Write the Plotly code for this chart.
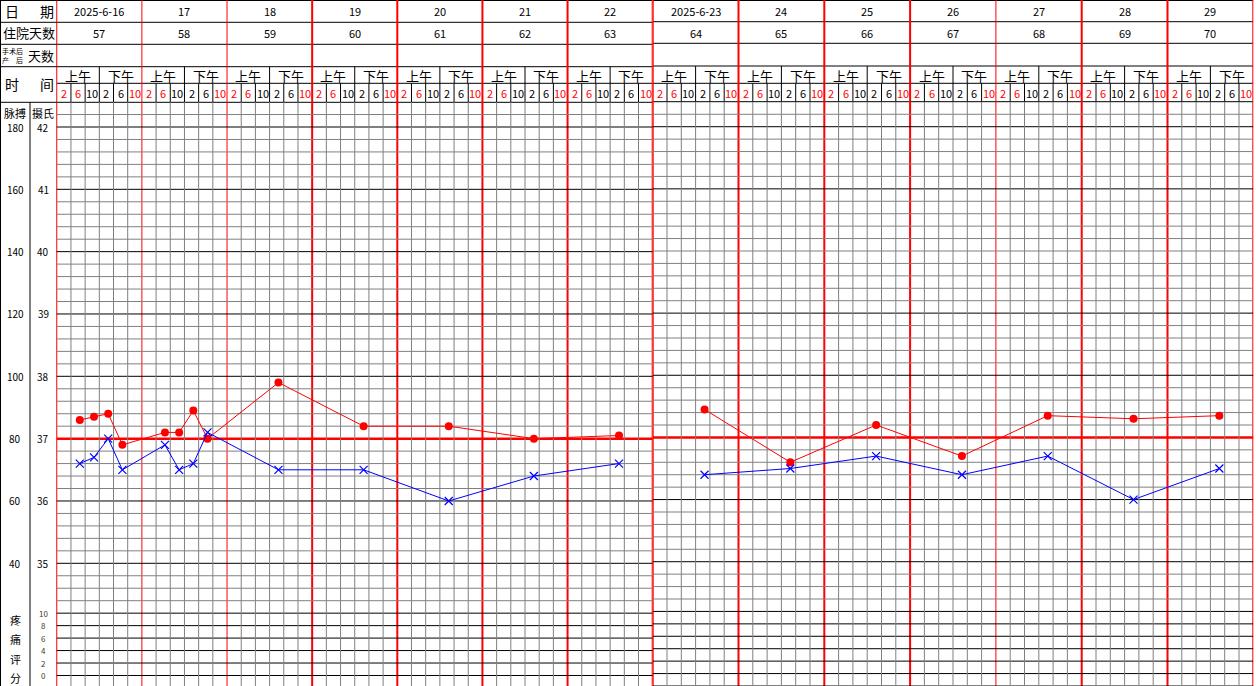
"""体温单 (两周) Plotly 重绘."""

import plotly.graph_objects as go

W, H = 1256, 686
FONT = "Noto Sans CJK SC"
RED = "#FF0000"
GREY = "#808080"
BLUE = "#0000FF"

# ---- 数据 ----
week1_dates = ["2025-6-16", "17", "18", "19", "20", "21", "22"]
week2_dates = ["2025-6-23", "24", "25", "26", "27", "28", "29"]
week1_inpatient_days = [57, 58, 59, 60, 61, 62, 63]
week2_inpatient_days = [64, 65, 66, 67, 68, 69, 70]
half_day_labels = ["上午", "下午"]
hour_labels = ["2", "6", "10", "2", "6", "10"]
hour_colors = [RED, RED, "black", "black", "black", RED]
pulse_ticks = [180, 160, 140, 120, 100, 80, 60, 40]
temp_ticks = [42, 41, 40, 39, 38, 37, 36, 35]
pain_ticks = [10, 8, 6, 4, 2, 0]

week1_day = [0, 0, 0, 0, 1, 1, 1, 1, 2, 3, 4, 5, 6]
week1_time = [6.5, 10.5, 14.5, 18.5, 6.5, 10.5, 14.5, 18.5, 14.5, 14.5, 14.5, 14.5, 14.5]
week1_temp = [37.3, 37.35, 37.4, 36.9, 37.1, 37.1, 37.45, 37.0, 37.9, 37.2, 37.2, 37.0, 37.05]
week1_pulse = [72, 74, 80, 70, 78, 70, 72, 82, 70, 70, 60, 68, 72]

week2_day = [0, 1, 2, 3, 4, 5, 6]
week2_time = [14.5, 14.5, 14.5, 14.5, 14.5, 14.5, 14.5]
week2_temp = [37.45, 36.6, 37.2, 36.7, 37.35, 37.3, 37.35]
week2_pulse = [68, 70, 74, 68, 74, 60, 70]


def temp_to_pulse(t):
    return 80 + (t - 37) * 20


def pain_to_temp(p):
    return 33.2 + p * 0.1


def py(px):
    return 1 - px / H


def px_x(px):
    return px / W


# 两个面板的像素位置
L_X0, L_X1 = 0, 652.7          # 左面板 (含标签列)
R_X0, R_X1 = 652.7, 1253.3     # 右面板
L_RANGE_Y = [33.0314, 44.0375]
R_RANGE_Y = [33.0, 44.0389]
L_ROWS = [0.5, 22.3, 44.3, 66.7, 83.3, 102.3]
R_ROWS = [0.5, 21.7, 43.3, 66.0, 83.3, 101.7]
L_DAY_W = [1, 1, 1, 2, 2, 2, 2, 2]
R_DAY_W = [2, 2, 2, 2, 1, 2, 2, 2]

shapes = []
annotations = []


def line(x0, y0, x1, y1, xref, yref, color, width=1):
    shapes.append(dict(type="line", x0=x0, y0=y0, x1=x1, y1=y1, xref=xref, yref=yref,
                       line=dict(color=color, width=width), layer="below"))


def text(x, y, s, xref, yref, size=11, color="black"):
    annotations.append(dict(x=x, y=y, text=s, xref=xref, yref=yref, showarrow=False,
                            xanchor="center", yanchor="middle",
                            font=dict(family=FONT, size=size, color=color)))


def build_panel(xr, yr, rows, day_w, dates, inpatient, skip_black, bottom_black):
    # 表头横线
    for r in rows:
        line(0, py(r), 168, py(r), xr, "paper", "black", 1)
    # 网格横线
    for k in range(bottom_black, 424, 2):
        t = k / 10
        if k == 370:
            continue
        if k % 10 == 0 and k >= 350 and k not in skip_black:
            color = "black"
        elif k <= 342:
            color = "black"
        else:
            color = GREY
        line(0, t, 168, t, xr, yr, color, 1)
    line(0, 37, 168, 37, xr, yr, RED, 2.5)
    # 竖线
    for d in range(7):
        for s in range(1, 6):
            x = d * 24 + s * 4
            line(x, py(rows[4]), x, py(rows[5]), xr, "paper", "black", 1)
            line(x, 42.4, x, yr_min[yr], xr, yr, GREY, 1)
        line(d * 24 + 12, py(rows[3]), d * 24 + 12, py(rows[4]), xr, "paper", "black", 1)
    for d in range(8):
        line(d * 24, 1, d * 24, 0, xr, "paper", RED, day_w[d])
    # 表头文字
    for d in range(7):
        text(d * 24 + 12, py((rows[0] + rows[1]) / 2), dates[d], xr, "paper", 11)
        text(d * 24 + 12, py((rows[1] + rows[2]) / 2), str(inpatient[d]), xr, "paper", 11)
        for h, lab in enumerate(half_day_labels):
            text(d * 24 + 6 + h * 12, py((rows[3] + rows[4]) / 2 + 0.5), lab, xr, "paper", 13)
        for s in range(6):
            text(d * 24 + s * 4 + 2, py((rows[4] + rows[5]) / 2 + 0.5), hour_labels[s],
                 xr, "paper", 11, hour_colors[s])


yr_min = {"y": L_RANGE_Y[0], "y3": R_RANGE_Y[0]}
build_panel("x", "y", L_ROWS, L_DAY_W, week1_dates, week1_inpatient_days, [], 332)
build_panel("x2", "y3", R_ROWS, R_DAY_W, week2_dates, week2_inpatient_days, [400], 330)

# 左侧标签列
line(px_x(0.5), 1, px_x(0.5), 0, "paper", "paper", "black", 1)
for r in [L_ROWS[0], L_ROWS[1], L_ROWS[2], L_ROWS[3], L_ROWS[5]]:
    line(0, py(r), px_x(56.7), py(r), "paper", "paper", "black", 1)
line(px_x(30), py(L_ROWS[5]), px_x(30), 0, "paper", "paper", "black", 1)

text(px_x(12), py(11), "日", "paper", "paper", 14)
text(px_x(47), py(11), "期", "paper", "paper", 14)
text(px_x(29), py(33), "住院天数", "paper", "paper", 13)
text(px_x(12), py(51), "手术后", "paper", "paper", 7)
text(px_x(12), py(60), "产　后", "paper", "paper", 7)
text(px_x(41), py(55), "天数", "paper", "paper", 13)
text(px_x(12), py(84), "时", "paper", "paper", 14)
text(px_x(47), py(84), "间", "paper", "paper", 14)
text(px_x(15), py(113), "脉搏", "paper", "paper", 11)
text(px_x(43), py(113), "摄氏", "paper", "paper", 11)
for p, t in zip(pulse_ticks, temp_ticks):
    text(px_x(15), t, str(p), "paper", "y", 10)
    text(px_x(43), t, str(t), "paper", "y", 10)
for p in pain_ticks:
    text(px_x(43), pain_to_temp(p), str(p), "paper", "y", 8, "#4a3a20")
for i, ch in enumerate("疼痛评分"):
    text(px_x(15), py(620 + i * 19.3), ch, "paper", "paper", 11)

fig = go.Figure()

fig.add_trace(go.Scatter(
    x=[d * 24 + t for d, t in zip(week1_day, week1_time)], y=week1_temp,
    xaxis="x", yaxis="y", mode="lines+markers",
    line=dict(color=RED, width=1), marker=dict(color=RED, size=8),
    name="体温", showlegend=False,
))
fig.add_trace(go.Scatter(
    x=[d * 24 + t for d, t in zip(week1_day, week1_time)], y=week1_pulse,
    xaxis="x", yaxis="y2", mode="lines+markers",
    line=dict(color=BLUE, width=1),
    marker=dict(symbol="x-thin", size=8, line=dict(color=BLUE, width=1.2)),
    name="脉搏", showlegend=False,
))
fig.add_trace(go.Scatter(
    x=[d * 24 + t for d, t in zip(week2_day, week2_time)], y=week2_temp,
    xaxis="x2", yaxis="y3", mode="lines+markers",
    line=dict(color=RED, width=1), marker=dict(color=RED, size=8),
    name="体温", showlegend=False,
))
fig.add_trace(go.Scatter(
    x=[d * 24 + t for d, t in zip(week2_day, week2_time)], y=week2_pulse,
    xaxis="x2", yaxis="y4", mode="lines+markers",
    line=dict(color=BLUE, width=1),
    marker=dict(symbol="x-thin", size=8, line=dict(color=BLUE, width=1.2)),
    name="脉搏", showlegend=False,
))

hidden = dict(visible=False, showgrid=False, zeroline=False, fixedrange=True)
fig.update_layout(
    width=W, height=H,
    margin=dict(l=0, r=0, t=0, b=0),
    paper_bgcolor="white", plot_bgcolor="white",
    xaxis=dict(domain=[px_x(L_X0), px_x(L_X1)], range=[-16, 168], **hidden),
    xaxis2=dict(domain=[px_x(R_X0), px_x(R_X1)], range=[0, 168], anchor="y3", **hidden),
    yaxis=dict(domain=[0, 1], range=L_RANGE_Y, anchor="x", **hidden),
    yaxis2=dict(range=[temp_to_pulse(v) for v in L_RANGE_Y], overlaying="y", anchor="x", **hidden),
    yaxis3=dict(domain=[0, 1], range=R_RANGE_Y, anchor="x2", **hidden),
    yaxis4=dict(range=[temp_to_pulse(v) for v in R_RANGE_Y], overlaying="y3", anchor="x2", **hidden),
    shapes=shapes,
    annotations=annotations,
)

# 页面默认边距会让图整体偏移 8px
fig.write_html(
    "out.html",
    config={"displayModeBar": False},
    post_script="document.body.style.margin='0';document.body.style.overflow='hidden';",
)
